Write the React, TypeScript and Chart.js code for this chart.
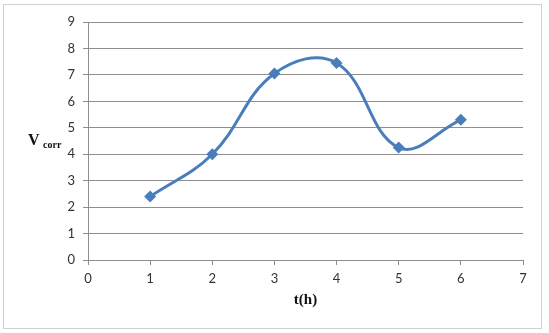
import React, { useEffect, useRef } from "react";
import { Chart, registerables } from "chart.js";

Chart.register(...registerables);

const timeHours = [1, 2, 3, 4, 5, 6];
const vCorr = [2.4, 4.0, 7.05, 7.45, 4.25, 5.3];
const xTicks = [0, 1, 2, 3, 4, 5, 6, 7];
const yTicks = [0, 1, 2, 3, 4, 5, 6, 7, 8, 9];
const xTitle = "t(h)";
const yTitleMain = "V";
const yTitleSub = "corr";

const LINE = "#4a7ebb";
const GRID = "#8e8e8e";
const TICK_FONT = { family: "Lato, 'Open Sans', sans-serif", size: 13 };

const titlesPlugin = {
  id: "titlesPlugin",
  afterDraw(chart: any) {
    const { ctx, chartArea } = chart;
    ctx.save();
    // outer frame
    ctx.strokeStyle = "#d0d0d0";
    ctx.lineWidth = 1;
    ctx.strokeRect(3.5, 4.5, 538, 324);
    ctx.fillStyle = "#111";
    ctx.textBaseline = "alphabetic";
    // x title
    ctx.font = "bold 15px 'Liberation Serif', serif";
    ctx.textAlign = "center";
    ctx.fillText(xTitle, (chartArea.left + chartArea.right) / 2, chartArea.bottom + 44);
    // y title
    const yy = chartArea.top + (chartArea.bottom - chartArea.top) * 0.5 + 4;
    ctx.textAlign = "left";
    ctx.font = "bold 16px 'Liberation Serif', serif";
    ctx.fillText(yTitleMain, 28, yy);
    ctx.font = "bold 10px 'Liberation Serif', serif";
    ctx.fillText(yTitleSub, 43, yy + 3);
    ctx.restore();
  },
};

export default function App() {
  const ref = useRef<HTMLCanvasElement>(null);
  useEffect(() => {
    document.body.style.margin = "0";
    const chart = new Chart(ref.current!, {
      type: "scatter",
      data: {
        datasets: [
          {
            data: timeHours.map((t, i) => ({ x: t, y: vCorr[i] })),
            showLine: true,
            borderColor: LINE,
            backgroundColor: LINE,
            borderWidth: 3,
            tension: 0.4,
            pointStyle: "rectRot",
            pointRadius: 6,
            pointBorderWidth: 0,
            pointBackgroundColor: LINE,
          },
        ],
      },
      options: {
        responsive: false,
        animation: false,
        layout: { padding: { left: 0, right: 26, top: 22, bottom: 0 } },
        plugins: { legend: { display: false }, tooltip: { enabled: false } },
        scales: {
          x: {
            type: "linear",
            min: 0,
            max: 7,
            afterBuildTicks: (s: any) => {
              s.ticks = xTicks.map((v) => ({ value: v }));
            },
            afterFit: (s: any) => {
              s.height = 73;
            },
            ticks: { color: "#333", font: TICK_FONT, padding: 6 },
            grid: {
              drawOnChartArea: false,
              drawTicks: true,
              tickLength: 5,
              color: GRID,
            },
            border: { color: GRID, width: 1 },
          },
          y: {
            min: 0,
            max: 9,
            afterBuildTicks: (s: any) => {
              s.ticks = yTicks.map((v) => ({ value: v }));
            },
            afterFit: (s: any) => {
              s.width = 88;
            },
            ticks: { color: "#333", font: TICK_FONT, padding: 8 },
            grid: { color: GRID, tickLength: 5, lineWidth: 1 },
            border: { color: GRID, width: 1 },
          },
        },
      },
      plugins: [titlesPlugin],
    });
    return () => chart.destroy();
  }, []);
  return (
    <div style={{ position: "absolute", left: 0, top: 0, width: 549, height: 333, background: "#fff" }}>
      <canvas ref={ref} width={549} height={333} />
    </div>
  );
}
